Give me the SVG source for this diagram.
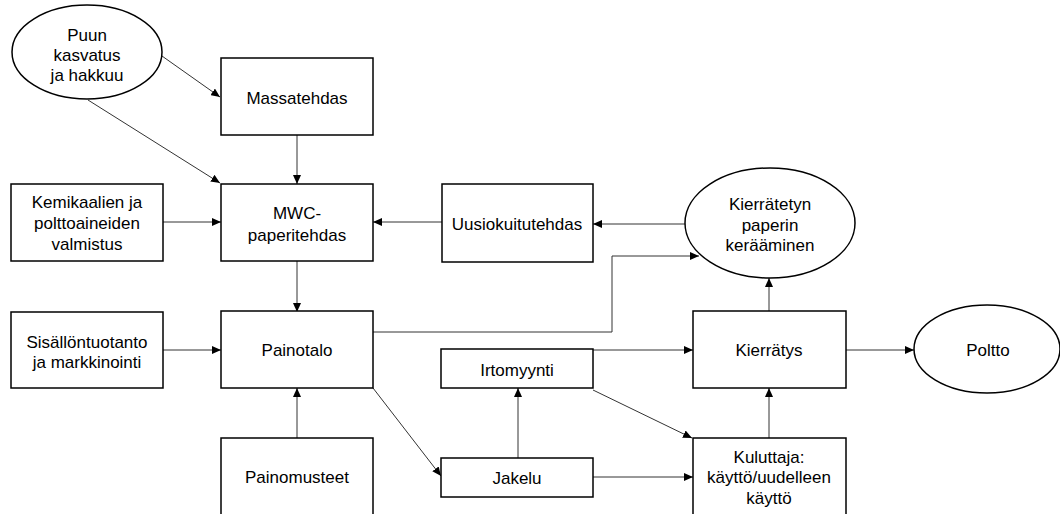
<svg xmlns="http://www.w3.org/2000/svg" width="1060" height="514" viewBox="0 0 1060 514">
<style>
.n{fill:#fff;stroke:#000;stroke-width:1.5}
.t{font-family:"Liberation Sans",Arial,sans-serif;font-size:17px;fill:#000;text-anchor:middle}
.c{fill:none;stroke:#333;stroke-width:1}
</style>
<defs>
<marker id="a" markerUnits="userSpaceOnUse" markerWidth="9" markerHeight="8" refX="9" refY="4" orient="auto"><path d="M0,0 L9,4 L0,8 z" fill="#000"/></marker>
</defs>
<rect width="1060" height="514" fill="#fff"/>
<g id="connectors">
<line class="c" x1="162" y1="56" x2="220" y2="97" marker-end="url(#a)"/>
<line class="c" x1="88" y1="100" x2="220" y2="183" marker-end="url(#a)"/>
<line class="c" x1="297" y1="135" x2="297" y2="184" marker-end="url(#a)"/>
<line class="c" x1="163" y1="222" x2="221" y2="222" marker-end="url(#a)"/>
<line class="c" x1="442" y1="222" x2="373" y2="222" marker-end="url(#a)"/>
<line class="c" x1="685" y1="224" x2="593" y2="224" marker-end="url(#a)"/>
<line class="c" x1="297" y1="261" x2="297" y2="312" marker-end="url(#a)"/>
<line class="c" x1="163" y1="350" x2="221" y2="350" marker-end="url(#a)"/>
<line class="c" x1="297" y1="438" x2="297" y2="388" marker-end="url(#a)"/>
<polyline class="c" points="373,332 612,332 612,256 699,256" marker-end="url(#a)"/>
<line class="c" x1="373" y1="388" x2="441" y2="476" marker-end="url(#a)"/>
<line class="c" x1="518" y1="458" x2="518" y2="388" marker-end="url(#a)"/>
<line class="c" x1="593" y1="350" x2="693" y2="350" marker-end="url(#a)"/>
<line class="c" x1="593" y1="390" x2="692" y2="438" marker-end="url(#a)"/>
<line class="c" x1="593" y1="477" x2="693" y2="477" marker-end="url(#a)"/>
<line class="c" x1="769" y1="438" x2="769" y2="388" marker-end="url(#a)"/>
<line class="c" x1="769" y1="311" x2="769" y2="278" marker-end="url(#a)"/>
<line class="c" x1="846" y1="350" x2="914" y2="350" marker-end="url(#a)"/>
</g>
<g id="puun"><ellipse class="n" cx="87" cy="52" rx="75" ry="47"/><text class="t" x="87" y="41">Puun</text><text class="t" x="87" y="61">kasvatus</text><text class="t" x="87" y="81">ja hakkuu</text></g>
<g id="massatehdas"><rect class="n" x="221" y="58" width="152" height="77"/><text class="t" x="297" y="104">Massatehdas</text></g>
<g id="kemikaalien"><rect class="n" x="11" y="184" width="152" height="77"/><text class="t" x="87" y="208">Kemikaalien ja</text><text class="t" x="87" y="229">polttoaineiden</text><text class="t" x="87" y="250">valmistus</text></g>
<g id="mwc"><rect class="n" x="221" y="184" width="152" height="77"/><text class="t" x="297" y="219">MWC-</text><text class="t" x="297" y="241">paperitehdas</text></g>
<g id="uusiokuitu"><rect class="n" x="442" y="184" width="151" height="78"/><text class="t" x="517" y="230">Uusiokuitutehdas</text></g>
<g id="kerays"><ellipse class="n" cx="770" cy="223" rx="85" ry="55"/><text class="t" x="770" y="210">Kierrätetyn</text><text class="t" x="770" y="231">paperin</text><text class="t" x="770" y="251">kerääminen</text></g>
<g id="sisalto"><rect class="n" x="11" y="312" width="152" height="76"/><text class="t" x="87" y="348">Sisällöntuotanto</text><text class="t" x="87" y="368">ja markkinointi</text></g>
<g id="painotalo"><rect class="n" x="221" y="311" width="152" height="77"/><text class="t" x="297" y="356">Painotalo</text></g>
<g id="painomusteet"><rect class="n" x="221" y="438" width="152" height="82"/><text class="t" x="297" y="483">Painomusteet</text></g>
<g id="irtomyynti"><rect class="n" x="441" y="349" width="152" height="39"/><text class="t" x="517" y="376">Irtomyynti</text></g>
<g id="jakelu"><rect class="n" x="441" y="458" width="152" height="39"/><text class="t" x="517" y="484">Jakelu</text></g>
<g id="kierratys"><rect class="n" x="693" y="311" width="153" height="77"/><text class="t" x="769" y="356">Kierrätys</text></g>
<g id="poltto"><ellipse class="n" cx="987" cy="349" rx="73" ry="44"/><text class="t" x="988" y="356">Poltto</text></g>
<g id="kuluttaja"><rect class="n" x="693" y="438" width="153" height="82"/><text class="t" x="769" y="463">Kuluttaja:</text><text class="t" x="769" y="483">käyttö/uudelleen</text><text class="t" x="769" y="504">käyttö</text></g>
</svg>
